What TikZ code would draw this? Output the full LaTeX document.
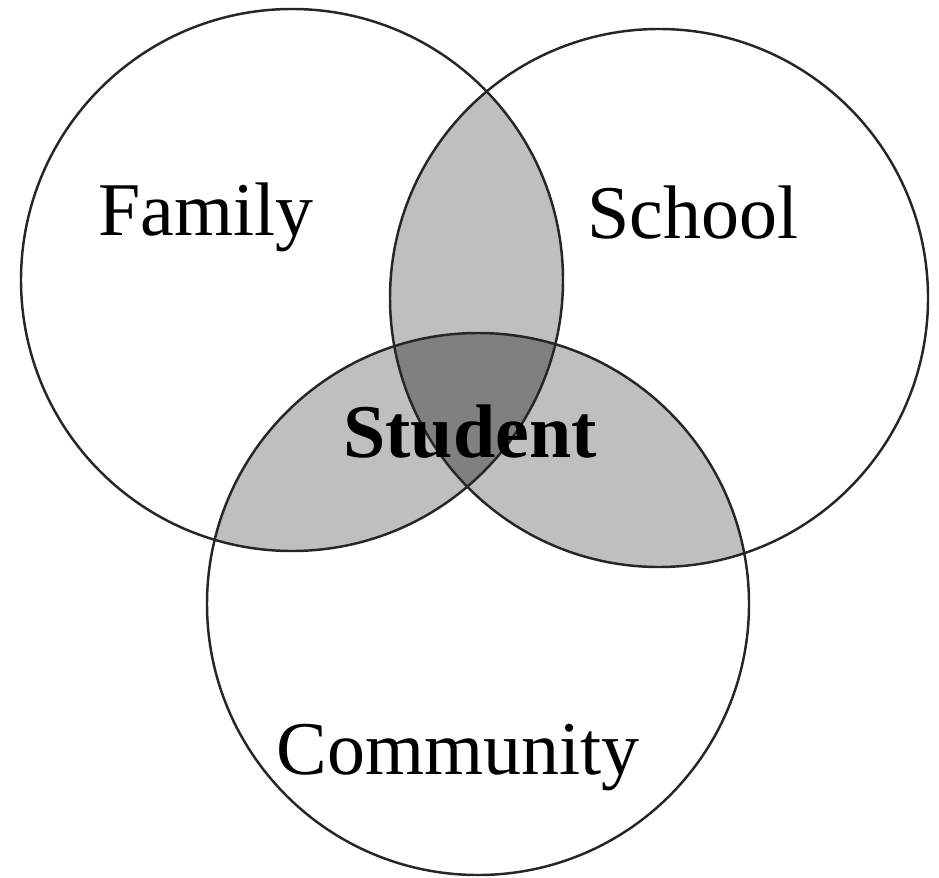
\documentclass[tikz,border=0pt]{standalone}
\usepackage{fontspec}
\setmainfont{Liberation Serif}
\usepackage{tikz}
\usetikzlibrary{positioning}

\begin{document}
\begin{tikzpicture}[
    ring/.style={draw=black!85, line width=0.7pt},
    lens/.style={fill=black!25},
    core/.style={fill=black!50},
    word/.style={anchor=base, font=\fontsize{21.6}{26}\selectfont}
]
\useasboundingbox (0,0) rectangle (9.39,8.77);
\coordinate (fam) at (2.92,5.97);
\coordinate (sch) at (6.59,5.79);
\coordinate (com) at (4.78,2.73);

% pairwise overlaps
\begin{scope}
\clip (fam) circle (2.71);
\fill[lens] (sch) circle (2.69);
\fill[lens] (com) circle (2.71);
\end{scope}
\begin{scope}
\clip (sch) circle (2.69);
\fill[lens] (com) circle (2.71);
\end{scope}
% middle
\begin{scope}
\clip (fam) circle (2.71);
\clip (sch) circle (2.69);
\fill[core] (com) circle (2.71);
\end{scope}

\draw[ring] (fam) circle (2.71);
\draw[ring] (sch) circle (2.69);
\draw[ring] (com) circle (2.71);

\node[word] (family) at (2.06,6.42) {Family};
\node[word] (school) at (6.93,6.39) {School};
\node[word] (student) at (4.70,4.20) {\bfseries Student};
\node[word] (community) at (4.58,1.03) {Community};

\end{tikzpicture}
\end{document}
